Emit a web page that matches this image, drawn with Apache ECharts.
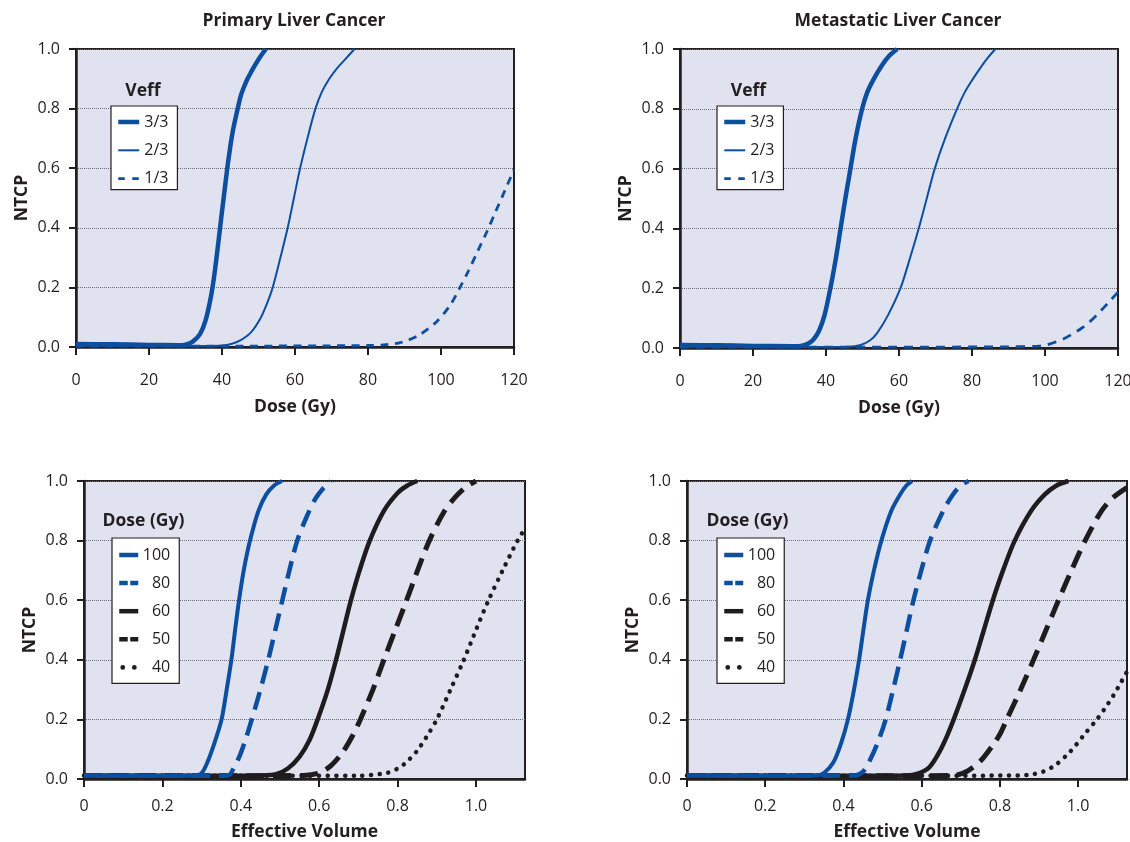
<!DOCTYPE html>
<html><head><meta charset="utf-8">
<script src="https://cdn.jsdelivr.net/npm/echarts@6/dist/echarts.min.js"></script>
<style>html,body{margin:0;padding:0;background:#fff}#c{width:1130px;height:842px}</style>
</head><body><div id="c"></div>
<script>
// ---- tick values / labels ----
const doseTicks = [0, 20, 40, 60, 80, 100, 120];
const doseTickLabels = ['0', '20', '40', '60', '80', '100', '120'];
const volumeTicks = [0, 0.2, 0.4, 0.6, 0.8, 1.0];
const volumeTickLabels = ['0', '0.2', '0.4', '0.6', '0.8', '1.0'];
const ntcpTicks = [0, 0.2, 0.4, 0.6, 0.8, 1.0];
const ntcpTickLabels = ['0.0', '0.2', '0.4', '0.6', '0.8', '1.0'];

const panelTitles = ['Primary Liver Cancer', 'Metastatic Liver Cancer'];
const veffNames = ['3/3', '2/3', '1/3'];
const doseNames = ['100', '80', '60', '50', '40'];

// ---- top row: NTCP vs dose (Gy) ----
const primary33 = [[0,0.010],[10,0.009],[20,0.007],[28,0.006],[30,0.008],[32,0.018],[34,0.044],[35.5,0.089],[37,0.171],[38,0.251],[39,0.351],[40,0.455],[41,0.555],[41.8,0.632],[42.9,0.72],[44.3,0.8],[45.2,0.845],[46.1,0.875],[47,0.9],[48,0.923],[49,0.945],[50,0.965],[51,0.983],[52,1.0]];
const primary23 = [[0,0.005],[20,0.004],[35,0.003],[40,0.005],[42.5,0.01],[45,0.022],[48,0.05],[50.7,0.1],[52.4,0.148],[53.9,0.2],[56,0.3],[58,0.4],[59.7,0.5],[61.4,0.6],[63.4,0.7],[65.6,0.8],[67.4,0.857],[69.4,0.9],[71.5,0.935],[73.8,0.966],[76.3,1.0]];
const primary13 = [[0,0.003],[40,0.003],[80,0.005],[85,0.008],[89,0.015],[94,0.04],[98.8,0.085],[102.5,0.14],[105,0.195],[107.5,0.255],[110,0.32],[112.5,0.385],[115,0.455],[117.5,0.525],[120,0.595]];

const metastatic33 = [[0,0.010],[10,0.009],[20,0.007],[30,0.006],[33,0.007],[35,0.014],[36.5,0.028],[38,0.055],[39.6,0.11],[41.2,0.2],[42.7,0.3],[44,0.4],[45.3,0.5],[46.7,0.6],[48.1,0.7],[49.9,0.8],[51.3,0.855],[53.1,0.9],[55.3,0.945],[57.4,0.978],[59.5,1.0]];
const metastatic23 = [[0,0.005],[20,0.004],[40,0.003],[46,0.004],[49.5,0.01],[52,0.025],[54,0.05],[57,0.11],[60.4,0.2],[63,0.3],[65.4,0.4],[67.6,0.5],[69.8,0.6],[72.6,0.7],[75.9,0.8],[78,0.855],[80,0.895],[82.2,0.935],[84.3,0.97],[86.4,1.0]];
const metastatic13 = [[0,0.003],[60,0.003],[90,0.004],[97.9,0.006],[100,0.009],[102.4,0.018],[105,0.03],[107.4,0.046],[110,0.066],[112,0.085],[114,0.108],[116.1,0.135],[118,0.16],[120,0.187]];

// ---- bottom row: NTCP vs effective volume ----
const primaryVol100 = [[0,0.012],[0.1,0.011],[0.2,0.011],[0.28,0.012],[0.3,0.02],[0.316,0.06],[0.335,0.13],[0.351,0.2],[0.364,0.3],[0.376,0.4],[0.3855,0.5],[0.3955,0.6],[0.4075,0.7],[0.4235,0.8],[0.445,0.9],[0.465,0.955],[0.485,0.985],[0.505,1.0]];
const primaryVol80 = [[0,0.012],[0.2,0.011],[0.35,0.011],[0.37,0.013],[0.383,0.04],[0.398,0.08],[0.414,0.14],[0.428,0.2],[0.45,0.3],[0.47,0.4],[0.488,0.5],[0.506,0.6],[0.524,0.7],[0.544,0.8],[0.568,0.88],[0.59,0.94],[0.61,0.975],[0.63,1.0]];
const primaryVol60 = [[0,0.012],[0.3,0.011],[0.45,0.012],[0.49,0.016],[0.52,0.035],[0.55,0.075],[0.575,0.13],[0.596,0.2],[0.622,0.3],[0.643,0.4],[0.662,0.5],[0.681,0.6],[0.703,0.7],[0.729,0.8],[0.765,0.9],[0.8,0.96],[0.825,0.985],[0.85,1.0]];
const primaryVol50 = [[0,0.012],[0.4,0.011],[0.56,0.012],[0.6,0.02],[0.63,0.045],[0.66,0.09],[0.685,0.145],[0.705,0.2],[0.737,0.3],[0.765,0.4],[0.794,0.5],[0.823,0.6],[0.851,0.7],[0.881,0.8],[0.92,0.9],[0.95,0.95],[0.975,0.98],[1.0,1.0]];
const primaryVol40 = [[0,0.012],[0.5,0.011],[0.7,0.011],[0.771,0.02],[0.8,0.035],[0.823,0.057],[0.85,0.095],[0.874,0.142],[0.9,0.2],[0.935,0.3],[0.969,0.4],[1.0,0.5],[1.032,0.6],[1.068,0.7],[1.106,0.8],[1.125,0.84]];

const metastaticVol100 = [[0,0.012],[0.2,0.011],[0.33,0.012],[0.35,0.02],[0.374,0.055],[0.394,0.12],[0.4115,0.2],[0.427,0.3],[0.44,0.4],[0.451,0.5],[0.4625,0.6],[0.478,0.7],[0.497,0.8],[0.5225,0.9],[0.545,0.955],[0.561,0.985],[0.575,1.0]];
const metastaticVol80 = [[0,0.012],[0.3,0.011],[0.43,0.012],[0.45,0.025],[0.464,0.053],[0.487,0.12],[0.508,0.2],[0.527,0.3],[0.545,0.4],[0.562,0.5],[0.579,0.6],[0.599,0.7],[0.6215,0.8],[0.655,0.9],[0.68,0.955],[0.7,0.985],[0.72,1.0]];
const metastaticVol60 = [[0,0.012],[0.4,0.011],[0.56,0.012],[0.59,0.018],[0.62,0.04],[0.645,0.09],[0.665,0.145],[0.682,0.2],[0.71,0.3],[0.736,0.4],[0.759,0.5],[0.782,0.6],[0.808,0.7],[0.838,0.8],[0.88,0.9],[0.915,0.955],[0.945,0.985],[0.975,1.0]];
const metastaticVol50 = [[0,0.012],[0.5,0.011],[0.68,0.012],[0.715,0.025],[0.75,0.06],[0.78,0.11],[0.8,0.15],[0.8176,0.2],[0.853,0.3],[0.886,0.4],[0.918,0.5],[0.95,0.6],[0.983,0.7],[1.018,0.8],[1.06,0.9],[1.09,0.945],[1.125,0.978]];
const metastaticVol40 = [[0,0.012],[0.6,0.011],[0.85,0.012],[0.88,0.015],[0.911,0.025],[0.94,0.045],[0.971,0.08],[0.995,0.115],[1.015,0.148],[1.048,0.2],[1.07,0.24],[1.09,0.28],[1.11,0.325],[1.125,0.36]];

// ---- styling ----
const FONT = "'Open Sans', 'Noto Sans', sans-serif";
const BLUE = '#0c4fa0';
const BLACK = '#1f1c1d';
const DARK = '#231f20';
const PLOT_BG = '#e0e2f0';
const GRIDLINE = '#6f6f78';
const TWO_DOTS_ICON = 'path://M0,7L0.01,7Z M19,7L18.99,7Z M1.1,7a2.4,2.4 0 1,0 4.8,0a2.4,2.4 0 1,0 -4.8,0Z M12.7,7a2.4,2.4 0 1,0 4.8,0a2.4,2.4 0 1,0 -4.8,0Z';

function labelFrom(ticks, labels) {
  return function (v) {
    const i = ticks.findIndex(t => Math.abs(t - v) < 1e-6);
    return i < 0 ? '' : labels[i];
  };
}

const grids = [
  {left: 76, top: 49, width: 438, height: 298},
  {left: 680, top: 49, width: 438, height: 299},
  {left: 84, top: 481, width: 441, height: 298},
  {left: 687, top: 481, width: 440, height: 298}
].map(g => Object.assign(g, {show: true, backgroundColor: PLOT_BG, borderColor: DARK, borderWidth: 2, containLabel: false, outerBoundsMode: 'none'}));

function xAxisFor(i) {
  const isDose = i < 2;
  return {
    gridIndex: i, type: 'value', min: 0,
    max: isDose ? 120 : 1.125,
    interval: isDose ? 20 : 0.2,
    axisLine: {show: true, onZero: false, lineStyle: {color: DARK, width: 2.5}},
    axisTick: {show: true, inside: false, length: 8, lineStyle: {color: DARK, width: 2}},
    axisLabel: {show: true, margin: isDose ? 25 : 19, fontSize: 16, color: DARK, fontFamily: FONT,
      showMaxLabel: isDose, formatter: isDose ? labelFrom(doseTicks, doseTickLabels) : labelFrom(volumeTicks, volumeTickLabels)},
    splitLine: {show: false},
    name: isDose ? 'Dose (Gy)' : 'Effective Volume',
    nameLocation: 'middle', nameGap: isDose ? 51 : 44,
    nameTextStyle: {fontWeight: 'bold', fontSize: 17.5, color: DARK, fontFamily: FONT}
  };
}
function yAxisFor(i) {
  return {
    gridIndex: i, type: 'value', min: 0, max: 1, interval: 0.2,
    axisLine: {show: true, onZero: false, lineStyle: {color: DARK, width: 2.5}},
    axisTick: {show: true, inside: false, length: 7, lineStyle: {color: DARK, width: 2}},
    axisLabel: {show: true, margin: 16, fontSize: 16, color: DARK, fontFamily: FONT, formatter: labelFrom(ntcpTicks, ntcpTickLabels)},
    splitLine: {show: true, lineStyle: {type: 'dotted', color: GRIDLINE, width: 1}},
    name: 'NTCP', nameLocation: 'middle', nameGap: 45, nameRotate: 90,
    nameTextStyle: {fontWeight: 'bold', fontSize: 17.5, color: DARK, fontFamily: FONT}
  };
}

function lineSeries(name, grid, data, color, width, type, cap) {
  return {
    name: name, type: 'line', xAxisIndex: grid, yAxisIndex: grid, data: data,
    symbol: 'none', showSymbol: false, smooth: 0.3,
    color: color, itemStyle: {color: color},
    lineStyle: {color: color, width: width, type: type || 'solid', cap: cap || 'butt'},
    emphasis: {disabled: true}, silent: true, animation: false
  };
}

const DASH_TOP_P = [8, 6.5];
const DASH_TOP_M = [9, 7];
const DASH_BOTTOM = [18, 9];
const DOTS = [0.1, 8.6];

// draw order: lowest-priority curves first so the leftmost curve sits on top
const series = [
  lineSeries(veffNames[2], 0, primary13, BLUE, 2.8, DASH_TOP_P),
  lineSeries(veffNames[1], 0, primary23, BLUE, 2),
  lineSeries(veffNames[0], 0, primary33, BLUE, 4.5),
  lineSeries(veffNames[2], 1, metastatic13, BLUE, 2.8, DASH_TOP_M),
  lineSeries(veffNames[1], 1, metastatic23, BLUE, 2),
  lineSeries(veffNames[0], 1, metastatic33, BLUE, 4.5),
  lineSeries(doseNames[4], 2, primaryVol40, BLACK, 4.5, DOTS, 'round'),
  lineSeries(doseNames[3], 2, primaryVol50, BLACK, 5, DASH_BOTTOM),
  lineSeries(doseNames[2], 2, primaryVol60, BLACK, 4.5),
  lineSeries(doseNames[1], 2, primaryVol80, BLUE, 4.5, DASH_BOTTOM),
  lineSeries(doseNames[0], 2, primaryVol100, BLUE, 4),
  lineSeries(doseNames[4], 3, metastaticVol40, BLACK, 4.5, DOTS, 'round'),
  lineSeries(doseNames[3], 3, metastaticVol50, BLACK, 5, DASH_BOTTOM),
  lineSeries(doseNames[2], 3, metastaticVol60, BLACK, 4.5),
  lineSeries(doseNames[1], 3, metastaticVol80, BLUE, 4.5, DASH_BOTTOM),
  lineSeries(doseNames[0], 3, metastaticVol100, BLUE, 4)
];

const legendText = {fontFamily: FONT, fontSize: 16, color: DARK};
function veffLegend(left) {
  return {
    data: [
      {name: veffNames[0]},
      {name: veffNames[1]},
      {name: veffNames[2], lineStyle: {type: [6.5, 7.5], width: 2.8}}
    ],
    orient: 'vertical', left: left, top: 106, itemWidth: 21, itemHeight: 14, itemGap: 12.3,
    padding: [8, 9, 3, 5], backgroundColor: '#fff', borderColor: DARK, borderWidth: 1.2, borderRadius: 0,
    textStyle: legendText, lineStyle: {width: 'inherit'}, itemStyle: {opacity: 0}, selectedMode: false
  };
}
function doseLegend(left) {
  return {
    data: [
      {name: doseNames[0], lineStyle: {width: 4.5}},
      {name: doseNames[1], lineStyle: {type: [8.5, 2.5], width: 4.5}},
      {name: doseNames[2], lineStyle: {width: 4.5}},
      {name: doseNames[3], lineStyle: {type: [8.5, 2.5], width: 4.5}},
      {name: doseNames[4], icon: TWO_DOTS_ICON, itemStyle: {opacity: 1, color: BLACK}}
    ],
    orient: 'vertical', left: left, top: 538, itemWidth: 19, itemHeight: 14, itemGap: 12.1,
    padding: [9, 9, 8, 5], backgroundColor: '#fff', borderColor: DARK, borderWidth: 1.2,
    formatter: name => '{n|' + name + '}',
    textStyle: Object.assign({rich: {n: {width: 27, align: 'right', fontFamily: FONT, fontSize: 16, color: DARK}}}, legendText),
    lineStyle: {width: 'inherit'}, itemStyle: {opacity: 0}, selectedMode: false
  };
}

const boldText = {fontFamily: FONT, fontSize: 17.5, fontWeight: 'bold', color: DARK};
function titleAt(text, left, top) {
  return {text: text, left: left, top: top, textAlign: 'center', padding: 0, textStyle: boldText};
}

const option = {
  animation: false,
  backgroundColor: '#fff',
  title: [
    titleAt(panelTitles[0], 294, 12),
    titleAt(panelTitles[1], 898, 12),
    titleAt('Veff', 143, 82),
    titleAt('Veff', 748.5, 82),
    titleAt('Dose (Gy)', 143.5, 512),
    titleAt('Dose (Gy)', 747.5, 512)
  ],
  grid: grids,
  xAxis: [0, 1, 2, 3].map(xAxisFor),
  yAxis: [0, 1, 2, 3].map(yAxisFor),
  legend: [veffLegend(111), veffLegend(717), doseLegend(112), doseLegend(717)],
  series: series
};

const chart = echarts.init(document.getElementById('c'), null, {renderer: 'canvas'});
chart.setOption(option);
</script>
</body></html>
